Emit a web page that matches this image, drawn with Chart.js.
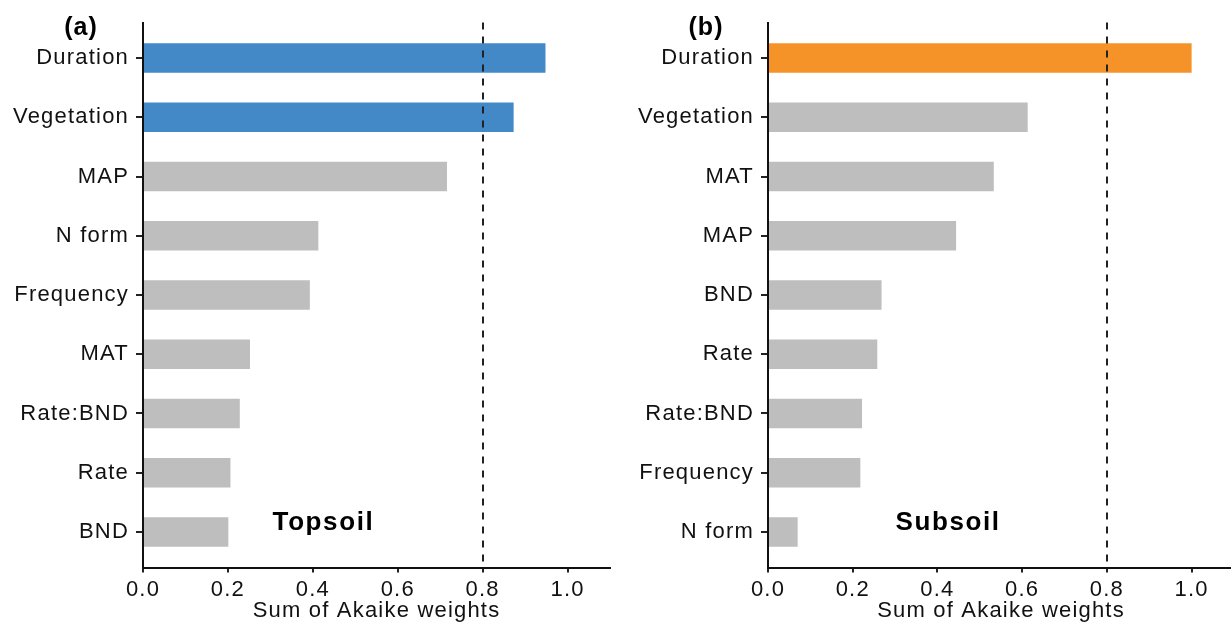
<!DOCTYPE html>
<html><head><meta charset="utf-8">
<script src="https://cdn.jsdelivr.net/npm/chart.js@4.4.1/dist/chart.umd.min.js"></script>
<style>
html,body{margin:0;padding:0;background:#fff;overflow:hidden;width:1231px;height:626px;}
#cA{position:absolute;left:0;top:0;}
#cB{position:absolute;left:620px;top:0;}
</style></head><body>
<canvas id="cA" width="615" height="626"></canvas>
<canvas id="cB" width="614" height="626"></canvas>
<script>
const topsoilCategories = ['Duration','Vegetation','MAP','N form','Frequency','MAT','Rate:BND','Rate','BND'];
const topsoilWeights    = [0.948, 0.873, 0.716, 0.413, 0.393, 0.252, 0.228, 0.206, 0.201];
const subsoilCategories = ['Duration','Vegetation','MAT','MAP','BND','Rate','Rate:BND','Frequency','N form'];
const subsoilWeights    = [1.000, 0.613, 0.533, 0.444, 0.268, 0.258, 0.222, 0.218, 0.070];
const xTickValues = [0, 0.2, 0.4, 0.6, 0.8, 1.0];
const threshold = 0.8;
const xAxisTitle = 'Sum of Akaike weights';

const FONT = "'Liberation Sans', Arial, Helvetica, sans-serif";
const GRAY = '#bebebe';

function makeChart(canvas, cats, vals, color, axisWidth, padRight, panelTag, panelName) {
  const annot = {
    id: 'annot',
    beforeDraw(chart) { chart.ctx.letterSpacing = '1.2px'; },
    afterDatasetsDraw(chart) {
      const ctx = chart.ctx, ca = chart.chartArea, xs = chart.scales.x;
      const xp = xs.getPixelForValue(threshold);
      ctx.save();
      ctx.strokeStyle = '#222';
      ctx.lineWidth = 2;
      ctx.setLineDash([7, 7]);
      ctx.beginPath();
      ctx.moveTo(Math.round(xp), ca.top);
      ctx.lineTo(Math.round(xp), ca.bottom);
      ctx.stroke();
      ctx.restore();
    },
    afterDraw(chart) {
      const ctx = chart.ctx, ca = chart.chartArea, xs = chart.scales.x;
      ctx.save();
      ctx.fillStyle = '#000';
      ctx.textAlign = 'center';
      ctx.textBaseline = 'alphabetic';
      ctx.letterSpacing = '1.6px';
      ctx.font = "bold 26px " + FONT;
      ctx.fillText(panelName, xs.getPixelForValue(0.425), ca.bottom - 37.5);
      ctx.letterSpacing = '1px';
      ctx.font = "bold 25px " + FONT;
      ctx.fillText(panelTag, ca.left - 62, 35);
      ctx.restore();
    }
  };
  return new Chart(canvas, {
    type: 'bar',
    data: {
      datasets: [{
        data: vals.map((v, i) => ({x: v, y: i + 1})),
        backgroundColor: vals.map(v => v > threshold ? color : GRAY),
        borderWidth: 0,
        categoryPercentage: 1,
        barPercentage: 0.5
      }]
    },
    options: {
      indexAxis: 'y',
      responsive: false,
      animation: false,
      devicePixelRatio: 1,
      layout: {padding: {top: 22.5, right: padRight, left: 0, bottom: 0}},
      plugins: {legend: {display: false}, tooltip: {enabled: false}},
      scales: {
        y: {
          type: 'linear', reverse: true, min: 0.4, max: 9.6, offset: false,
          afterBuildTicks: s => { s.ticks = cats.map((c, i) => ({value: i + 1})); },
          afterFit: s => { s.width = axisWidth; },
          ticks: {callback: v => cats[Math.round(v) - 1], font: {size: 22, family: FONT}, color: '#111', padding: 7, autoSkip: false},
          grid: {offset: false, drawOnChartArea: false, drawTicks: true, tickLength: 7, color: '#222', lineWidth: 2},
          border: {display: true, color: '#111', width: 2},
          z: 1
        },
        x: {
          type: 'linear', min: 0, max: 1.1, offset: false,
          afterBuildTicks: s => { s.ticks = xTickValues.map(v => ({value: v})); },
          afterFit: s => { s.height = 58.5; },
          ticks: {callback: v => v.toFixed(1), font: {size: 22, family: FONT}, color: '#111', padding: 4, maxRotation: 0, autoSkip: false},
          grid: {offset: false, drawOnChartArea: false, drawTicks: true, tickLength: 5, color: '#222', lineWidth: 2},
          border: {display: true, color: '#111', width: 2},
          title: {display: true, text: xAxisTitle, color: '#111', font: {size: 22, family: FONT}, padding: {top: 0, bottom: 2}},
          z: 1
        }
      }
    },
    plugins: [annot]
  });
}

makeChart(document.getElementById('cA'), topsoilCategories, topsoilWeights, '#4389c8', 143, 5, '(a)', 'Topsoil');
makeChart(document.getElementById('cB'), subsoilCategories, subsoilWeights, '#f59328', 148, 0, '(b)', 'Subsoil');
</script>
</body></html>
